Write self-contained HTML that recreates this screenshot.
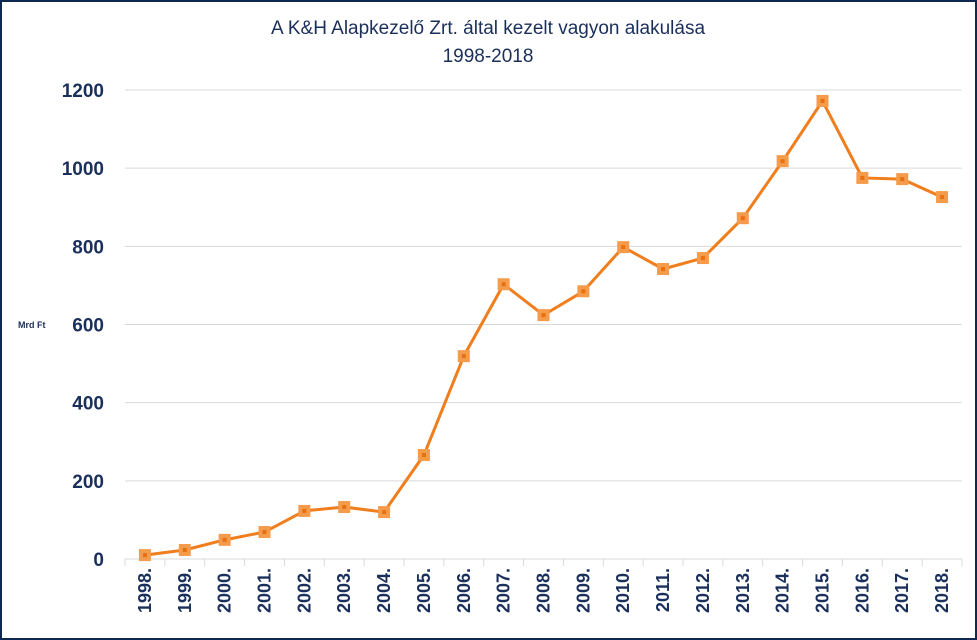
<!DOCTYPE html>
<html><head><meta charset="utf-8"><style>
body{margin:0;background:#fff}
svg{display:block;font-family:"Liberation Sans",sans-serif}
</style></head><body>
<svg id="c" width="977" height="640">
<rect x="1" y="1" width="975" height="638" fill="#fff" stroke="#0f2850" stroke-width="2"/>
<text x="488" y="34" text-anchor="middle" font-size="19" fill="#1a2f5a">A K&amp;H  Alapkezelő Zrt. által kezelt vagyon alakulása</text>
<text x="488" y="62" text-anchor="middle" font-size="19" fill="#1a2f5a">1998-2018</text>
<text x="18" y="328" font-size="9" font-weight="bold" fill="#1a2f5a">Mrd Ft</text>
<g id="grid"></g><g id="axes"></g><g id="series"></g>
</svg>
<script>
const categories=["1998.","1999.","2000.","2001.","2002.","2003.","2004.","2005.","2006.","2007.","2008.","2009.","2010.","2011.","2012.","2013.","2014.","2015.","2016.","2017.","2018."];
const values=[10,23,49,69,123,133,120,266,519,703,624,685,798,742,770,872,1018,1172,975,972,926];
const yTicks=[0,200,400,600,800,1000,1200];
const NS="http://www.w3.org/2000/svg";
const L=125,R=962,Y0=559,Y1=90,YMAX=1200;
const bw=(R-L)/categories.length;
const x=i=>L+bw*(i+0.5);
const y=v=>Y0-(v/YMAX)*(Y0-Y1);
function mk(t,a,p){const e=document.createElementNS(NS,t);for(const k in a)e.setAttribute(k,a[k]);p.appendChild(e);return e;}
const grid=document.getElementById('grid'),axes=document.getElementById('axes'),ser=document.getElementById('series');
yTicks.forEach(v=>{
 if(v>0){const g=mk('line',{x1:L,x2:R,y1:y(v),y2:y(v),stroke:'#d9d9d9','stroke-width':1},grid);
 
 }
 const t=mk('text',{x:104,y:y(v)+7,'text-anchor':'end','font-size':19,'font-weight':'bold',fill:'#1a2f5a'},axes);
 t.textContent=v;
 
 
});
const ax=mk('line',{x1:L,x2:R,y1:Y0,y2:Y0,stroke:'#d9d9d9','stroke-width':1},axes);


for(let i=0;i<=categories.length;i++){
 const tk=mk('line',{x1:L+bw*i,x2:L+bw*i,y1:Y0,y2:Y0+7,stroke:'#d9d9d9'},axes);
 
 
}
categories.forEach((c,i)=>{
 const t=mk('text',{transform:`translate(${x(i)+6},568) rotate(-90)`,'text-anchor':'end','font-size':18,'font-weight':'bold',fill:'#1a2f5a'},axes);
 t.textContent=c;
 
 
});
const pl=mk('polyline',{points:values.map((v,i)=>x(i)+','+y(v)).join(' '),fill:'none',stroke:'#f07e1c','stroke-width':3,'stroke-linejoin':'round'},ser);


values.forEach((v,i)=>{
 const m=mk('rect',{x:x(i)-6,y:y(v)-6,width:12,height:12,fill:'#f59b4c'},ser);
 
 
 const d=mk('rect',{x:x(i)-2,y:y(v)-2,width:4,height:4,fill:'#e8700f'},ser);
 
 
});
</script>
</body></html>
